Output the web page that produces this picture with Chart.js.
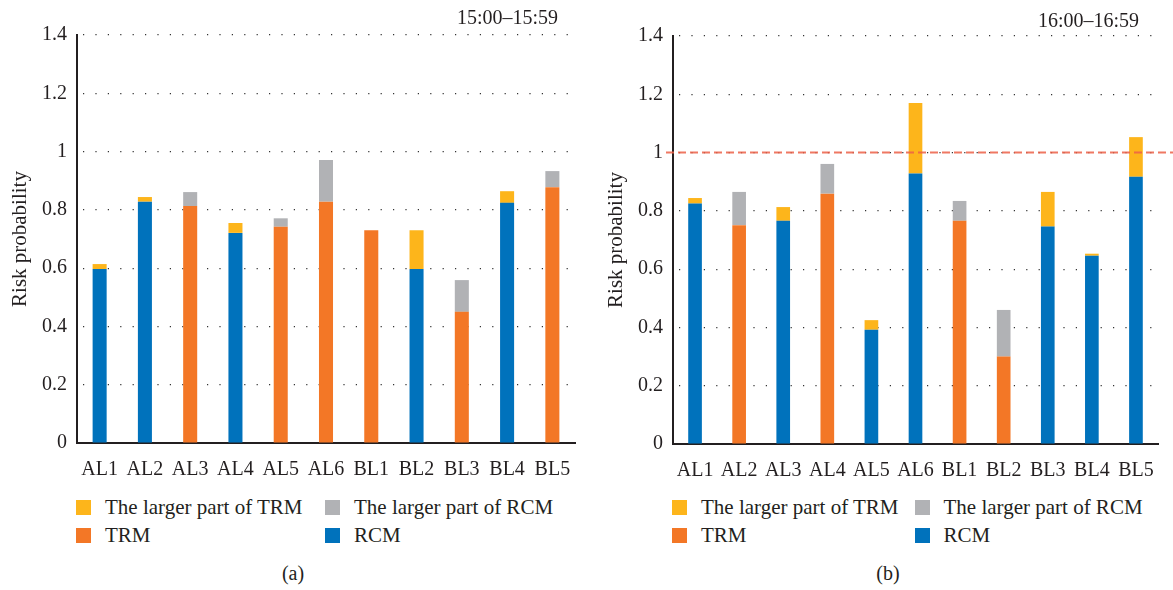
<!DOCTYPE html>
<html>
<head>
<meta charset="utf-8">
<title>Risk probability</title>
<script src="https://cdn.jsdelivr.net/npm/chart.js@4.4.1/dist/chart.umd.min.js"></script>
<style>
  body { margin: 0; background: #fff; width: 1173px; height: 590px; position: relative; overflow: hidden;
         font-family: "Liberation Serif", "DejaVu Serif", serif; color: #231f20; }
  canvas { position: absolute; top: 0; }
  .period { position: absolute; font-size: 20px; line-height: 24px; white-space: nowrap; }
  .legend { position: absolute; top: 493px; display: grid; grid-template-columns: 1fr 1fr; }
  .item { display: flex; align-items: center; height: 28px; font-size: 21px; white-space: nowrap; }
  .sw { width: 15px; height: 15px; margin-right: 14px; flex: none; }
  .cap { position: absolute; top: 561px; font-size: 20px; line-height: 24px; transform: translateX(-50%); }
</style>
</head>
<body>
<canvas id="chartA" width="586" height="480" style="left:0"></canvas>
<canvas id="chartB" width="577" height="480" style="left:596px"></canvas>
<div class="period" style="left:457px;top:5px">15:00–15:59</div>
<div class="period" style="left:1038px;top:8px">16:00–16:59</div>
<div class="legend" id="legendA"></div>
<div class="legend" id="legendB"></div>
<div class="cap" style="left:293px">(a)</div>
<div class="cap" style="left:888px">(b)</div>

<script>
const categories = ['AL1', 'AL2', 'AL3', 'AL4', 'AL5', 'AL6', 'BL1', 'BL2', 'BL3', 'BL4', 'BL5'];
const tickLabels = ['0', '0.2', '0.4', '0.6', '0.8', '1', '1.2', '1.4'];
const seriesNames = ['RCM', 'TRM', 'The larger part of TRM', 'The larger part of RCM'];
const seriesColors = ['#0072bc', '#f37726', '#fdb51b', '#b1b2b5'];
const legendOrder = [2, 3, 1, 0];

// (a) 15:00-15:59
const rcmA =       [0.597, 0.828, null,  0.721, null,  null,  null,  0.597, null,  0.824, null];
const trmA =       [null,  null,  0.813, null,  0.742, 0.828, 0.730, null,  0.450, null,  0.878];
const largerTrmA = [0.017, 0.016, null,  0.034, null,  null,  null,  0.133, null,  0.040, null];
const largerRcmA = [null,  null,  0.048, null,  0.029, 0.143, null,  null,  0.109, null,  0.055];

// (b) 16:00-16:59
const rcmB =       [0.825, null,  0.766, null,  0.392, 0.928, null,  null,  0.746, 0.646, 0.917];
const trmB =       [null,  0.751, null,  0.859, null,  null,  0.766, 0.300, null,  null,  null];
const largerTrmB = [0.019, null,  0.047, null,  0.033, 0.242, null,  null,  0.119, 0.007, 0.136];
const largerRcmB = [null,  0.114, null,  0.102, null,  null,  0.068, 0.160, null,  null,  null];

const thresholdB = 1;

const textColor = '#231f20';
const serif = '"Liberation Serif", "DejaVu Serif", serif';

// html legend, two columns across the plot area
function htmlLegend(id) {
  return {
    id: 'htmlLegend',
    afterLayout(chart) {
      const box = document.getElementById(id);
      const area = chart.chartArea;
      box.style.left = (chart.canvas.offsetLeft + area.left - 1) + 'px';
      box.style.width = area.width + 'px';
      box.innerHTML = '';
      legendOrder.forEach(i => {
        const ds = chart.data.datasets[i];
        const item = document.createElement('div');
        item.className = 'item';
        item.innerHTML = `<span class="sw" style="background:${ds.backgroundColor}"></span><span>${ds.label}</span>`;
        box.appendChild(item);
      });
    }
  };
}

const thresholdLine = {
  id: 'thresholdLine',
  afterDatasetsDraw(chart, args, opts) {
    if (opts.value == null) return;
    const {ctx, chartArea} = chart;
    const y = chart.scales.y.getPixelForValue(opts.value);
    ctx.save();
    ctx.strokeStyle = 'rgba(236, 96, 72, 0.85)';
    ctx.lineWidth = 2;
    ctx.setLineDash([8, 4]);
    ctx.beginPath();
    ctx.moveTo(chartArea.left - 7, y);
    ctx.lineTo(chart.width, y);
    ctx.stroke();
    ctx.restore();
  }
};

function makeChart(canvasId, legendId, series, threshold, pad) {
  const datasets = series.map((values, i) => ({
    label: seriesNames[i],
    data: values,
    backgroundColor: seriesColors[i],
    borderWidth: 0,
    stack: 'risk',
    barPercentage: 0.31,
    categoryPercentage: 1
  }));

  return new Chart(document.getElementById(canvasId), {
    type: 'bar',
    data: { labels: categories, datasets: datasets },
    options: {
      responsive: false,
      animation: false,
      layout: { padding: { top: pad.top, right: pad.right, left: 0, bottom: 0 } },
      plugins: {
        legend: { display: false },
        tooltip: { enabled: false },
        thresholdLine: { value: threshold }
      },
      scales: {
        x: {
          stacked: true,
          grid: { display: false },
          border: { color: '#231f20', width: 2 },
          ticks: { color: textColor, padding: 7, font: { family: serif, size: 20 } },
          afterFit(scale) { scale.height = pad.xHeight; }
        },
        y: {
          stacked: true,
          min: 0,
          max: 1.4,
          ticks: {
            stepSize: 0.2,
            padding: 10,
            color: textColor,
            font: { family: serif, size: 20 },
            callback: (v, i) => tickLabels[i]
          },
          grid: { color: '#333', lineWidth: 1.2, drawTicks: false },
          border: { color: '#231f20', width: 2, dash: [1.2, 11.2], dashOffset: 7.4 },
          title: {
            display: true,
            text: 'Risk probability',
            color: textColor,
            font: { family: serif, size: 21 },
            padding: { top: 8, bottom: 0 }
          },
          afterFit(scale) { scale.width = 77; }
        }
      }
    },
    plugins: [htmlLegend(legendId), thresholdLine]
  });
}

makeChart('chartA', 'legendA', [rcmA, trmA, largerTrmA, largerRcmA], null,
  { top: 35, right: 11, xHeight: 37 });
makeChart('chartB', 'legendB', [rcmB, trmB, largerTrmB, largerRcmB], thresholdB,
  { top: 36, right: 15, xHeight: 36 });
</script>
</body>
</html>
